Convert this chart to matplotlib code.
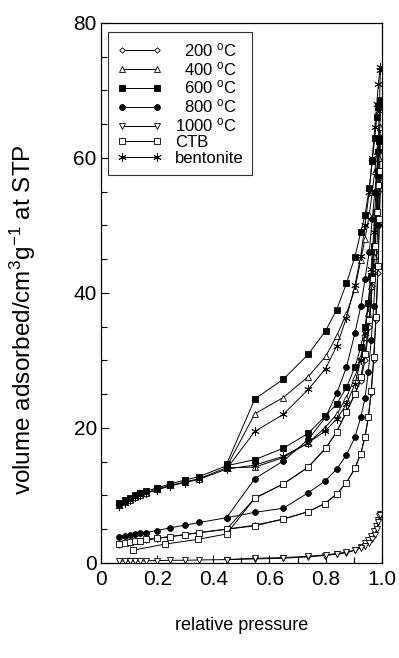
import matplotlib
matplotlib.use("Agg")
import matplotlib.pyplot as plt
from matplotlib.ticker import MultipleLocator

plt.rcParams['font.family'] = ['Liberation Sans', 'DejaVu Sans']
plt.rcParams['mathtext.fontset'] = 'custom'
plt.rcParams['mathtext.rm'] = 'Liberation Sans'
plt.rcParams['mathtext.it'] = 'Liberation Sans:italic'

# relative pressure points (adsorption up, desorption down)
p_ads = [0.065, 0.085, 0.103, 0.123, 0.139, 0.16, 0.198, 0.246, 0.299, 0.35, 0.447,
         0.548, 0.649, 0.738, 0.797, 0.839, 0.874, 0.904, 0.925, 0.94, 0.952, 0.962,
         0.971, 0.979, 0.986, 0.991, 0.995]
p_des = [0.993, 0.988, 0.982, 0.975, 0.966, 0.955, 0.94, 0.925, 0.904, 0.874, 0.839,
         0.80, 0.738, 0.649, 0.548, 0.447]
p_des_ctb = p_des + [0.346, 0.228, 0.115]

# volume adsorbed, cm3/g at STP
ads_200 = [2.7, 2.9, 3.0, 3.2, 3.3, 3.4, 3.6, 3.9, 4.2, 4.5, 5.0, 5.6, 6.5, 7.6, 8.8, 10.2,
           11.9, 14.0, 16.2, 18.7, 21.6, 25.1, 30.0, 36.0, 43.0, 50.0, 57.0]
des_200 = [57.0, 55.0, 51.0, 46.0, 41.0, 35.0, 30.0, 27.0, 25.0, 22.4, 19.4, 17.0, 14.2,
           11.7, 9.6, 5.0]

ads_400 = [8.6, 9.0, 9.4, 9.8, 10.1, 10.4, 10.9, 11.5, 12.0, 12.5, 14.1, 14.2, 15.6, 17.8,
           20.0, 22.0, 24.5, 27.5, 30.5, 33.5, 37.0, 41.0, 45.5, 50.5, 55.5, 60.0, 64.5]
des_400 = [64.5, 63.0, 61.0, 58.0, 55.0, 51.5, 48.0, 44.9, 40.5, 36.9, 33.6, 30.6, 27.6,
           24.5, 22.1, 14.2]

ads_600 = [8.9, 9.3, 9.6, 10.0, 10.3, 10.6, 11.1, 11.7, 12.3, 12.8, 14.4, 15.3, 17.0, 19.2,
           21.7, 23.5, 26.0, 29.0, 32.0, 35.0, 38.5, 42.5, 47.0, 52.0, 57.5, 62.5, 68.0]
des_600 = [68.5, 67.5, 66.0, 63.0, 59.5, 55.5, 51.5, 49.0, 45.3, 41.4, 37.5, 34.4, 30.9,
           27.2, 24.3, 14.6]

ads_800 = [3.8, 4.0, 4.2, 4.3, 4.4, 4.5, 4.8, 5.2, 5.6, 6.0, 6.7, 7.5, 8.1, 10.4, 12.1,
           13.9, 16.0, 18.6, 21.6, 24.4, 28.3, 33.0, 38.0, 44.0, 50.0, 56.0, 63.0]
des_800 = [63.0, 61.0, 58.0, 55.0, 51.0, 46.0, 42.0, 38.0, 34.0, 29.0, 25.1, 21.6, 18.3,
           15.1, 12.5, 6.7]

ads_1000 = [0.3, 0.3, 0.3, 0.3, 0.3, 0.35, 0.35, 0.4, 0.4, 0.45, 0.5, 0.6, 0.7, 0.9, 1.1,
            1.3, 1.5, 1.9, 2.4, 2.9, 3.4, 4.0, 4.7, 5.5, 6.3, 7.0, 7.3]
des_1000 = [7.1, 6.0, 5.0, 4.2, 3.6, 3.0, 2.5, 2.2, 1.9, 1.6, 1.4, 1.2, 1.0, 0.8, 0.7, 0.5]

ads_ctb = [2.8, 3.0, 3.1, 3.2, 3.3, 3.5, 3.7, 3.9, 4.2, 4.5, 5.0, 5.5, 6.5, 7.6, 8.8, 10.2,
           11.9, 14.0, 16.2, 18.7, 21.6, 25.5, 30.5, 36.5, 44.0, 51.0, 58.0]
des_ctb = [58.0, 56.0, 52.0, 47.0, 42.0, 36.0, 31.0, 27.5, 25.0, 22.4, 19.4, 17.0, 14.2,
           11.7, 9.6, 4.3, 3.5, 2.8, 1.9]

ads_bent = [8.5, 8.9, 9.3, 9.7, 10.0, 10.3, 10.8, 11.4, 11.9, 12.4, 13.9, 14.5, 15.8, 17.8,
            19.5, 21.3, 23.5, 26.5, 30.0, 34.0, 38.5, 43.5, 49.0, 55.0, 61.0, 67.0, 73.5]
des_bent = [73.0, 71.0, 68.0, 64.5, 60.0, 55.0, 50.0, 45.5, 41.1, 36.3, 32.1, 28.8, 25.7,
            22.0, 19.5, 13.9]

labels = ['  200 $^{\\rm o}$C', '  400 $^{\\rm o}$C', '  600 $^{\\rm o}$C', '  800 $^{\\rm o}$C',
          '1000 $^{\\rm o}$C', 'CTB', 'bentonite']

series = [
    (p_ads, ads_200, p_des, des_200, dict(marker='D', ms=2.8, mfc='white')),
    (p_ads, ads_400, p_des, des_400, dict(marker='^', ms=4.3, mfc='white')),
    (p_ads, ads_600, p_des, des_600, dict(marker='s', ms=4.0, mfc='black')),
    (p_ads, ads_800, p_des, des_800, dict(marker='o', ms=4.2, mfc='black')),
    (p_ads, ads_1000, p_des, des_1000, dict(marker='v', ms=4.3, mfc='white')),
    (p_ads, ads_ctb, p_des_ctb, des_ctb, dict(marker='s', ms=4.0, mfc='white')),
    (p_ads, ads_bent, p_des, des_bent, dict(marker=(6, 2, 0), ms=6, mfc='black')),
]

fig = plt.figure(figsize=(3.99, 6.58), dpi=100)
ax = fig.add_axes([0.253, 0.1444, 0.704, 0.821])

for (pa, va, pd, vd, style), lab in zip(series, labels):
    kw = dict(color='black', mec='black', lw=0.7, mew=0.6)
    kw.update(style)
    ax.plot(pa, va, label=lab, **kw)
    ax.plot(pd, vd, **kw)

ax.set_xlim(0, 1.0)
ax.set_ylim(0, 80)
ax.xaxis.set_minor_locator(MultipleLocator(0.1))
ax.yaxis.set_major_locator(MultipleLocator(20))
ax.yaxis.set_minor_locator(MultipleLocator(5))
ax.set_xticks([0, 0.2, 0.4, 0.6, 0.8, 1.0])
ax.set_xticklabels(['0', '0.2', '0.4', '0.6', '0.8', '1.0'])
ax.tick_params(which='both', direction='in', labelsize=15, width=0.8)
ax.tick_params(which='major', length=6)
ax.tick_params(which='minor', length=4)
ax.tick_params(axis='x', pad=5)
ax.tick_params(axis='y', pad=3)
for s in ax.spines.values():
    s.set_linewidth(0.9)

ax.set_xlabel('relative pressure', fontsize=13, labelpad=20)
ax.set_ylabel('volume adsorbed/cm$^3$g$^{-1}$ at STP', fontsize=17.5)
ax.yaxis.set_label_coords(-0.225, 0.45)

leg = ax.legend(loc='upper left', bbox_to_anchor=(0.025, 0.983), fontsize=12,
                frameon=True, fancybox=False, edgecolor='black', handlelength=2.7,
                labelspacing=0.05, borderpad=0.55, borderaxespad=0, handletextpad=0.75,
                numpoints=2)
leg.get_frame().set_linewidth(0.8)

fig.savefig('out.png', dpi=100)
